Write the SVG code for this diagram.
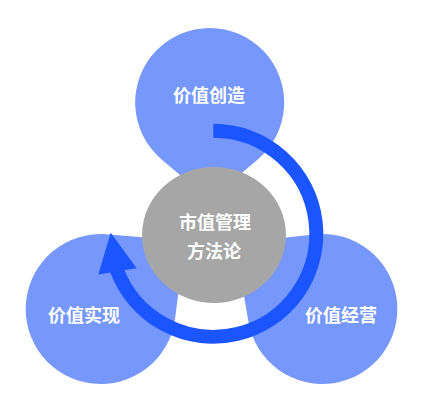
<svg xmlns="http://www.w3.org/2000/svg" width="429" height="411" viewBox="0 0 429 411">
  <style>
    .petal { fill: #7698fc; }
    .core { fill: #a6a6a6; }
    .lbl { fill: #ffffff; font-family: "Noto Sans CJK SC", "Noto Sans", sans-serif; font-size: 18px; font-weight: bold; text-anchor: middle; }
    .flow { fill: none; stroke: #1a55ff; stroke-width: 14; stroke-linecap: butt; }
    .head { fill: #1a55ff; }
  </style>
  <rect width="429" height="411" fill="#ffffff"/>
  <g id="node-create">
    <path class="petal" d="M 161.6 159.4 A 74.5 74.5 0 1 1 257.8 159.4 L 209.7 200 Z"/>
    <text class="lbl" x="209" y="101.5">价值创造</text>
  </g>
  <g id="node-realize">
    <path class="petal" d="M 107.1 234.3 A 75 75 0 1 0 175.1 318.5 L 185 241 Z"/>
    <text class="lbl" x="84" y="322">价值实现</text>
  </g>
  <g id="node-operate">
    <path class="petal" d="M 314.2 234.4 A 75 75 0 1 1 248.4 321.5 L 235 243 Z"/>
    <text class="lbl" x="341" y="322">价值经营</text>
  </g>
  <g id="node-core">
    <ellipse class="core" cx="214" cy="235" rx="72" ry="68"/>
    <text class="lbl" x="215" y="229">市值管理</text>
    <text class="lbl" x="214" y="257.5">方法论</text>
  </g>
  <g id="connectors">
    <path class="flow" d="M 213.3 130.8 A 103 103 0 1 1 116.5 269.0"/>
    <polygon class="head" points="110.7,232.7 98.3,274.5 136.7,268.3"/>
  </g>
</svg>
